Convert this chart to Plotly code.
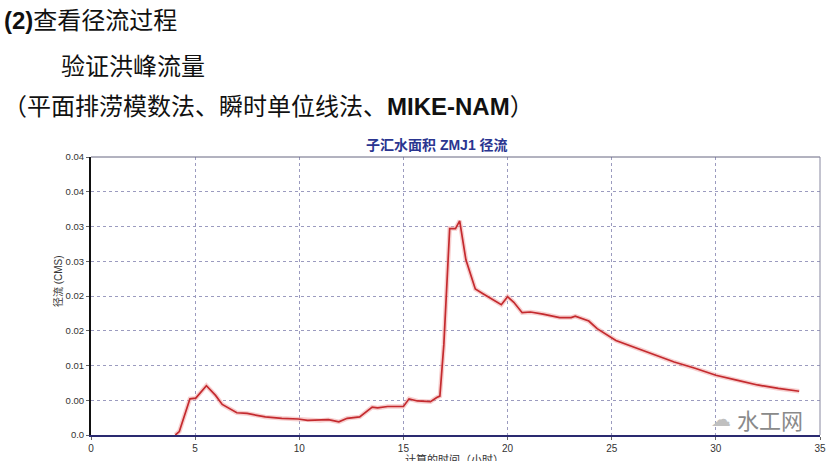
import plotly.graph_objects as go

# Runoff hydrograph data
hours = [4.05, 4.24, 4.75, 5.03, 5.54, 5.98, 6.3, 7.0, 7.5, 8.37, 9.16, 9.95, 10.4, 11.0,
         11.4, 11.9, 12.3, 12.9, 13.2, 13.5, 13.76, 14.24, 15.0, 15.27, 15.67, 16.3, 16.6,
         16.75, 16.94, 17.22, 17.5, 17.7, 18.0, 18.45, 18.84, 19.7, 20.0, 20.3, 20.7, 21.1,
         21.7, 22.5, 23.05, 23.25, 23.9, 24.3, 25.2, 26.0, 27.0, 28.0, 29.0, 30.0, 31.0,
         32.0, 33.0, 34.0]
runoff = [0.0, 0.0005, 0.0052, 0.0053, 0.0071, 0.0057, 0.0044, 0.0032, 0.0031, 0.0026,
          0.0024, 0.0023, 0.0021, 0.0021, 0.0022, 0.0019, 0.0024, 0.0026, 0.0033, 0.0040,
          0.0039, 0.0041, 0.0041, 0.0052, 0.0049, 0.0048, 0.0054, 0.0056, 0.0130, 0.0297,
          0.0297, 0.0308, 0.0252, 0.0210, 0.0203, 0.01875, 0.0199, 0.0191, 0.0176, 0.0177,
          0.0174, 0.0169, 0.0169, 0.0171, 0.0164, 0.0153, 0.0136, 0.0127, 0.0116, 0.0105,
          0.0096, 0.0086, 0.0079, 0.0072, 0.0067, 0.0063]

y_tickvals = [0, 0.005, 0.01, 0.015, 0.02, 0.025, 0.03, 0.035, 0.04]
y_ticktext = ["0.0", "0.00", "0.01", "0.02", "0.02", "0.03", "0.03", "0.04", "0.04"]
x_tickvals = [0, 5, 10, 15, 20, 25, 30, 35]

chart_title = "子汇水面积 ZMJ1 径流"
y_title = "径流 (CMS)"
x_title = "计算的时间（小时）"

W, H = 833, 461
L, R, T, B = 91, 7, 157, 21
pw, ph = W - L - R, H - T - B

def px(xp):
    return (xp - L) / pw

def py(yp):
    return (H - B - yp) / ph

fig = go.Figure()
# soft glow under line
fig.add_trace(go.Scatter(x=hours, y=runoff, mode="lines",
                         line=dict(color="rgba(240,160,160,0.5)", width=4.5),
                         hoverinfo="skip", showlegend=False))
fig.add_trace(go.Scatter(x=hours, y=runoff, mode="lines",
                         line=dict(color="#c42a2e", width=1.7),
                         showlegend=False))

font_lat = "Liberation Sans, Arial, Noto Sans CJK SC, sans-serif"

fig.update_layout(
    width=W, height=H,
    margin=dict(l=L, r=R, t=T, b=B),
    paper_bgcolor="white", plot_bgcolor="white",
    xaxis=dict(range=[0, 35], tickvals=x_tickvals, showgrid=True,
               gridcolor="#9b9bbf", griddash="dot", gridwidth=1,
               showline=True, linecolor="#2a2a70", linewidth=2, mirror=False,
               ticks="outside", ticklen=3, tickcolor="#666",
               tickfont=dict(family=font_lat, size=10, color="#333"),
               zeroline=False, fixedrange=True),
    yaxis=dict(range=[0, 0.04], tickvals=y_tickvals, ticktext=y_ticktext, showgrid=True,
               gridcolor="#9b9bbf", griddash="dot", gridwidth=1,
               showline=True, linecolor="#111", linewidth=2,
               ticks="outside", ticklen=3, tickcolor="#666",
               tickfont=dict(family=font_lat, size=9.5, color="#333"),
               zeroline=False, fixedrange=True),
    shapes=[
        dict(type="line", xref="paper", yref="paper", x0=0, x1=1, y0=1, y1=1,
             line=dict(color="#666680", width=1)),
        dict(type="line", xref="paper", yref="paper", x0=1, x1=1, y0=0, y1=1,
             line=dict(color="#8888a0", width=1)),
    ],
    annotations=[
        dict(text="<b>(2)</b>查看径流过程", xref="paper", yref="paper",
             x=px(1), y=py(18), xanchor="left", yanchor="middle", showarrow=False,
             font=dict(family=font_lat, size=24, color="#111")),
        dict(text="验证洪峰流量", xref="paper", yref="paper",
             x=px(59), y=py(65), xanchor="left", yanchor="middle", showarrow=False,
             font=dict(family=font_lat, size=24, color="#111")),
        dict(text="（平面排涝模数法、瞬时单位线法、<b>MIKE-NAM</b>）", xref="paper", yref="paper",
             x=px(0), y=py(106), xanchor="left", yanchor="middle", showarrow=False,
             font=dict(family=font_lat, size=24, color="#111")),
        dict(text="<b>" + chart_title + "</b>", xref="paper", yref="paper",
             x=px(440), y=py(145), xanchor="center", yanchor="middle", showarrow=False,
             font=dict(family=font_lat, size=14, color="#2a3590")),
        dict(text=y_title, xref="paper", yref="paper", textangle=-90,
             x=px(58), y=py(283), xanchor="center", yanchor="middle", showarrow=False,
             font=dict(family=font_lat, size=10, color="#333")),
        dict(text=x_title, xref="paper", yref="paper",
             x=px(457), y=py(456), xanchor="center", yanchor="top", showarrow=False,
             font=dict(family=font_lat, size=11, color="#333")),
        dict(text="水工网", xref="paper", yref="paper",
             x=px(776), y=py(424), xanchor="center", yanchor="middle", showarrow=False,
             font=dict(family="Noto Sans CJK SC, sans-serif", size=22, color="#8a8a8a")),
        dict(text="☁", xref="paper", yref="paper",
             x=px(726), y=py(424), xanchor="center", yanchor="middle", showarrow=False,
             font=dict(family="DejaVu Sans, sans-serif", size=20, color="#c0c0c0")),
    ],
)

fig.write_html("out.html", config={"displayModeBar": False},
               post_script="document.body.style.margin='0';")
